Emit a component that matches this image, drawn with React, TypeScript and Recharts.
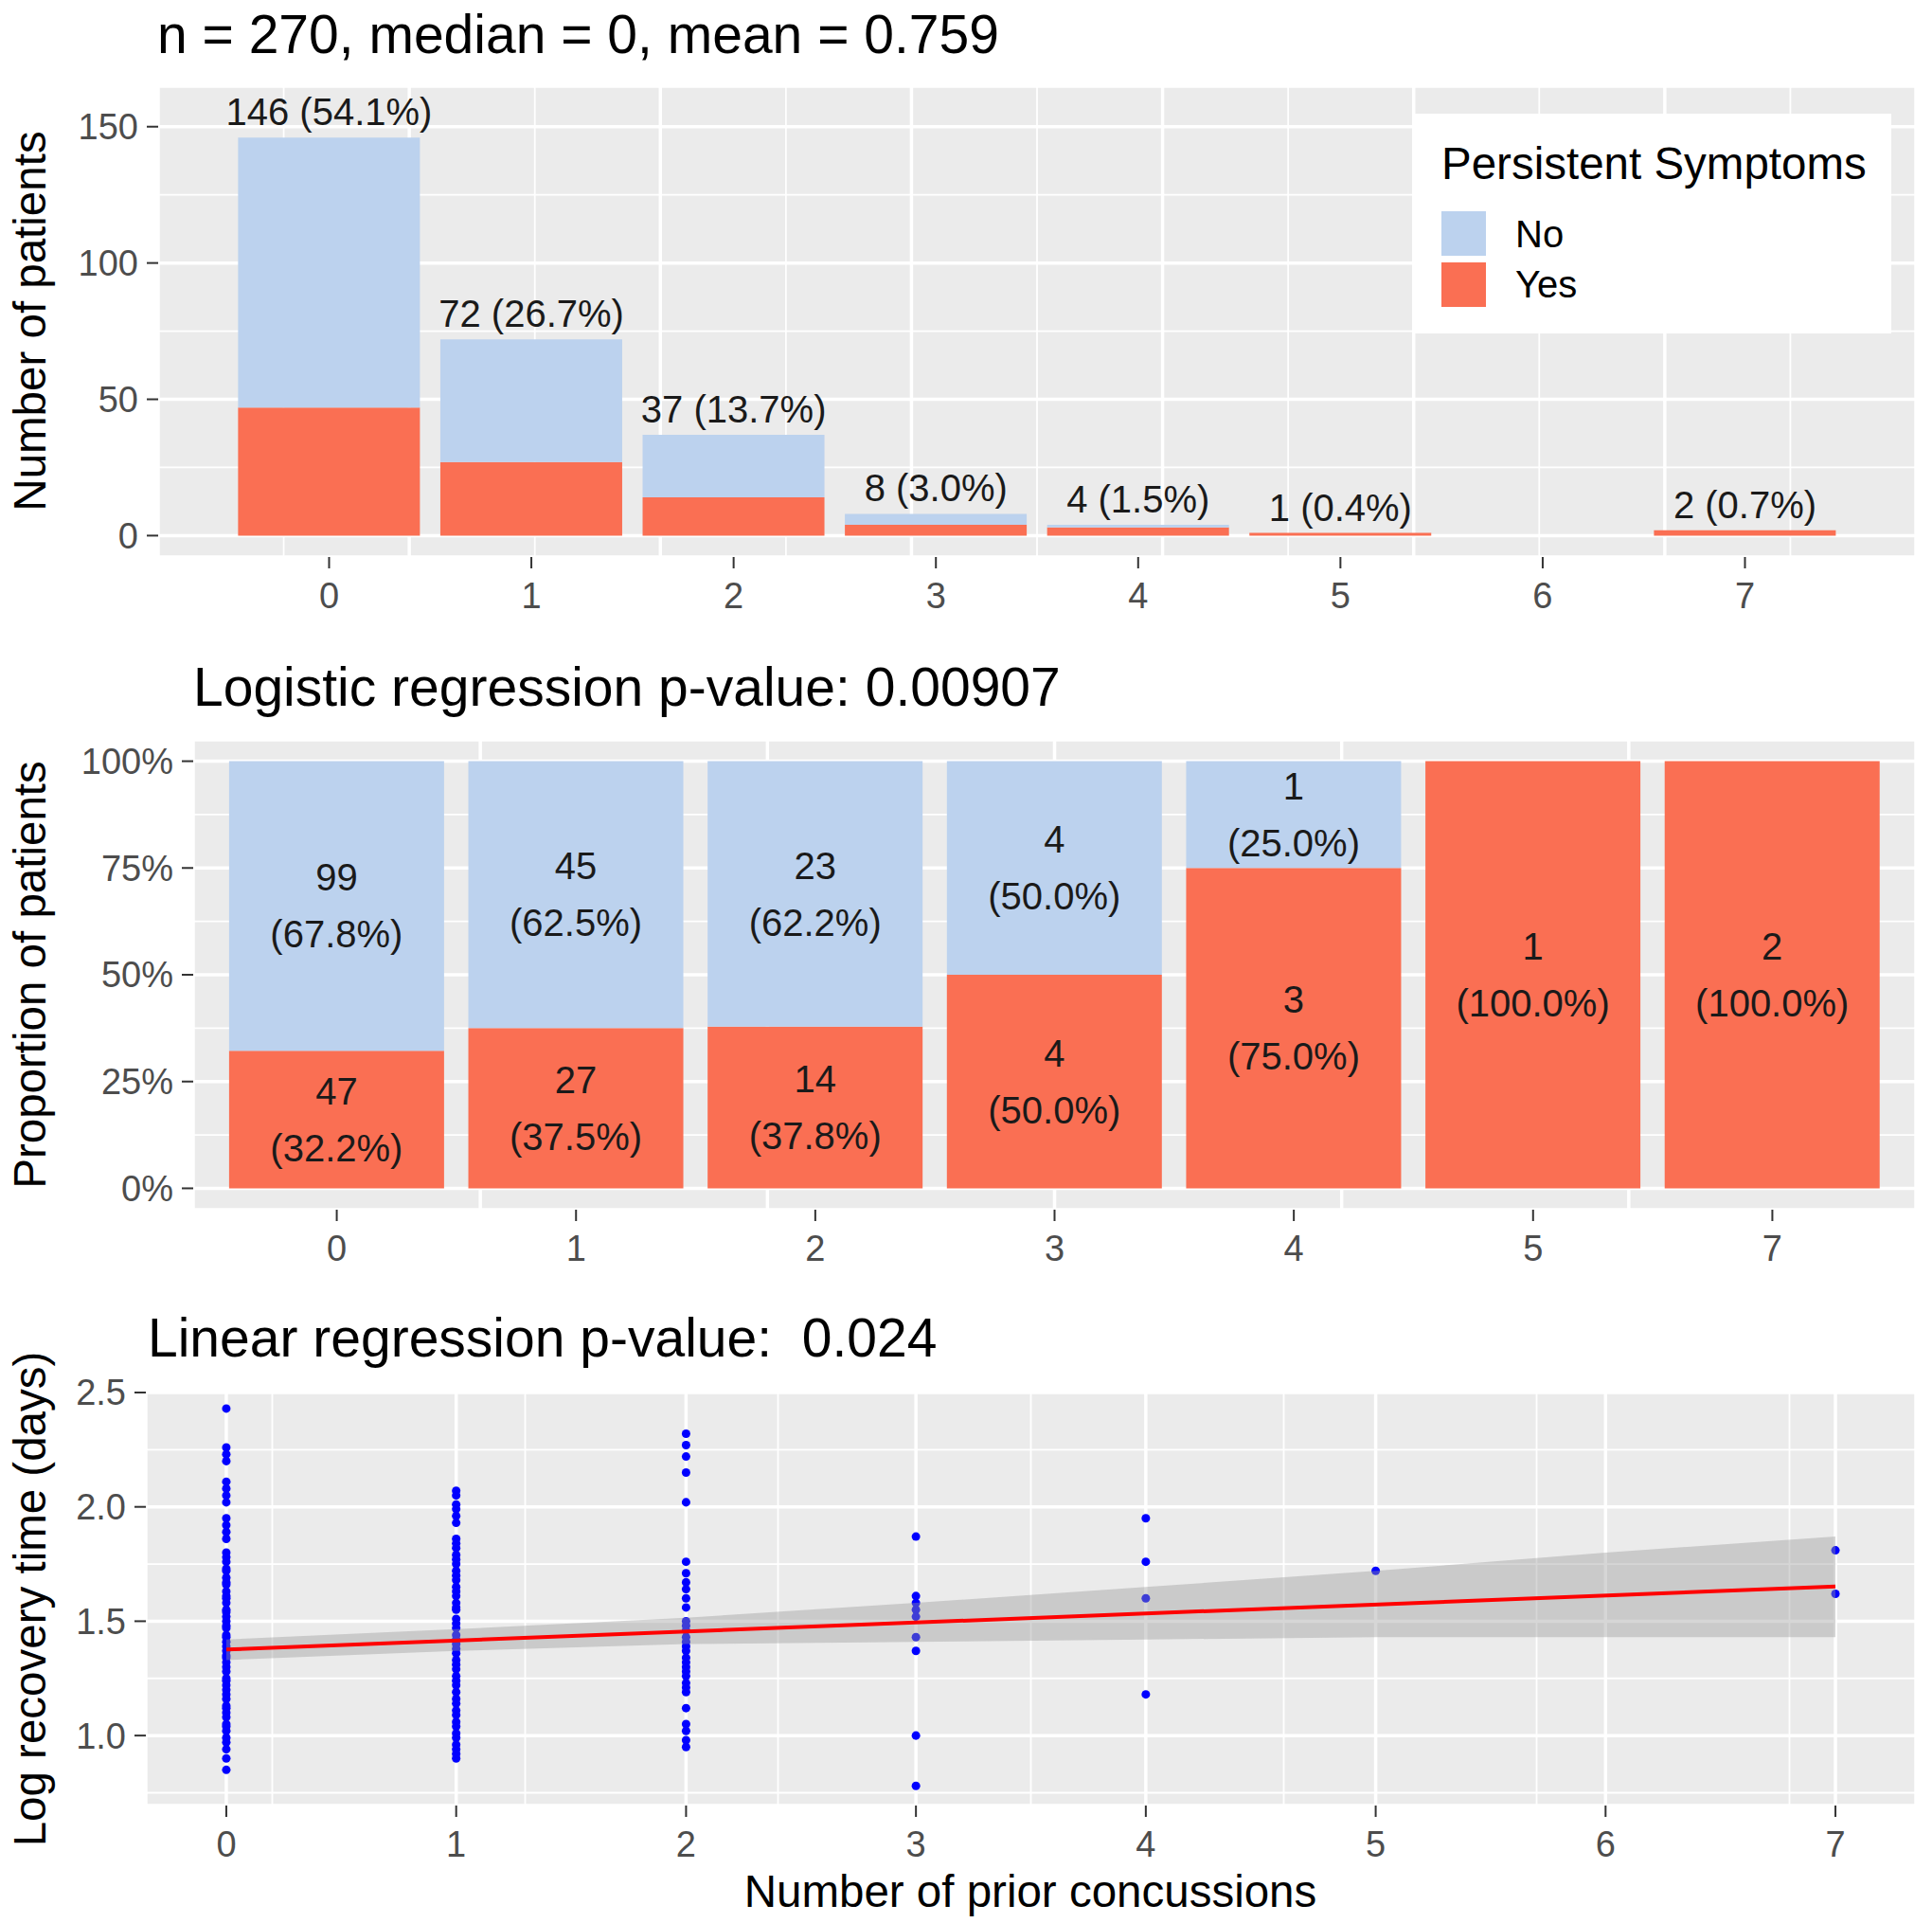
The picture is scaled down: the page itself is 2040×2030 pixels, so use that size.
import React from 'react';
import {
  ComposedChart,
  BarChart,
  Bar,
  Area,
  Line,
  Scatter,
  XAxis,
  YAxis,
  CartesianGrid,
  LabelList,
} from 'recharts';

// number of prior concussions
const priorCats = ['0', '1', '2', '3', '4', '5', '6', '7'];
const noCounts = [99, 45, 23, 4, 1, 0, 0, 0];
const yesCounts = [47, 27, 14, 4, 3, 1, 0, 2];

// log recovery time (days), one list per number of prior concussions
const logRec0 = [
  2.43, 2.26, 2.23, 2.2, 2.11, 2.08, 2.05, 2.02, 1.95, 1.92, 1.89, 1.86, 1.8, 1.78, 1.76, 1.73,
  1.72, 1.69, 1.67, 1.66, 1.63, 1.61, 1.6, 1.58, 1.55, 1.54, 1.52, 1.5, 1.48, 1.47, 1.44, 1.43,
  1.41, 1.39, 1.37, 1.35, 1.34, 1.32, 1.3, 1.28, 1.25, 1.24, 1.22, 1.2, 1.18, 1.16, 1.13, 1.12,
  1.1, 1.08, 1.05, 1.04, 1.02, 0.99, 0.97, 0.94, 0.9, 0.85,
];
const logRec1 = [
  2.07, 2.05, 2.01, 1.99, 1.96, 1.93, 1.86, 1.84, 1.82, 1.79, 1.77, 1.75, 1.72, 1.7, 1.68, 1.65,
  1.63, 1.61, 1.58, 1.56, 1.55, 1.51, 1.49, 1.47, 1.44, 1.42, 1.4, 1.38, 1.36, 1.33, 1.31, 1.29,
  1.26, 1.24, 1.22, 1.19, 1.16, 1.14, 1.11, 1.09, 1.06, 1.04, 1.01, 0.99, 0.96, 0.94, 0.92, 0.9,
];
const logRec2 = [
  2.32, 2.27, 2.22, 2.15, 2.02, 1.76, 1.71, 1.67, 1.64, 1.6, 1.56, 1.5, 1.48, 1.46, 1.43, 1.41,
  1.39, 1.37, 1.34, 1.32, 1.3, 1.28, 1.26, 1.23, 1.21, 1.19, 1.12, 1.05, 1.02, 0.98, 0.95,
];
const logRec3 = [1.87, 1.61, 1.58, 1.55, 1.52, 1.43, 1.37, 1.0, 0.78];
const logRec4 = [1.95, 1.76, 1.6, 1.18];
const logRec5 = [1.72];
const logRec7 = [1.81, 1.62];

// linear fit and its confidence band, read at each whole number of concussions
const fitX = [0, 1, 2, 3, 4, 5, 6, 7];
const fitY = [1.376, null, null, null, null, null, null, 1.652];
const bandLow = [1.33, 1.37, 1.4, 1.41, 1.42, 1.43, 1.43, 1.43];
const bandHigh = [1.42, 1.465, 1.515, 1.58, 1.65, 1.72, 1.8, 1.87];

const countTicks = [0, 50, 100, 150];
const countMinor = [25, 75, 125];
const propTicks = [0, 0.25, 0.5, 0.75, 1];
const propMinor = [0.125, 0.375, 0.625, 0.875];
const logTicks = [1, 1.5, 2, 2.5];
const logMinor = [0.75, 1.25, 1.75, 2.25];
const xTicks = [0, 1, 2, 3, 4, 5, 6, 7];
const xMinorTop = [-0.5, 0.5, 1.5, 2.5, 3.5, 4.5, 5.5, 6.5, 7.5];
const xMinorBottom = [0.5, 1.5, 2.5, 3.5, 4.5, 5.5, 6.5];

const BLUE = '#BCD2EE';
const RED = '#FA6F53';
const PANEL = '#EBEBEB';
const FONT = "'Liberation Sans', Arial, Helvetica, sans-serif";

const totals = priorCats.map((_, i) => noCounts[i] + yesCounts[i]);
const grandTotal = totals.reduce((a, b) => a + b, 0);

const countRows = priorCats.map((k, i) => ({
  k,
  yes: yesCounts[i],
  no: noCounts[i],
  total: totals[i],
  top: totals[i] ? `${totals[i]} (${((100 * totals[i]) / grandTotal).toFixed(1)}%)` : '',
}));

const propRows = priorCats
  .map((k, i) => ({
    k,
    yes: yesCounts[i],
    no: noCounts[i],
    yesP: totals[i] ? yesCounts[i] / totals[i] : 0,
    noP: totals[i] ? noCounts[i] / totals[i] : 0,
  }))
  .filter((r) => r.yes + r.no > 0);

const bandRows = fitX.map((x, i) => ({ x, band: [bandLow[i], bandHigh[i]], fit: fitY[i] }));

const scatterCols = [
  { x: 0, ys: logRec0 },
  { x: 1, ys: logRec1 },
  { x: 2, ys: logRec2 },
  { x: 3, ys: logRec3 },
  { x: 4, ys: logRec4 },
  { x: 5, ys: logRec5 },
  { x: 7, ys: logRec7 },
];
const points = scatterCols.flatMap((c) => c.ys.map((y) => ({ x: c.x, y })));

const tickText = { fill: '#4D4D4D', fontSize: 38 };
const tickStroke = { stroke: '#333333', strokeWidth: 2 };

function PlotTitle({ text, left, cy }: { text: string; left: number; cy: number }) {
  return (
    <div style={{ position: 'absolute', left, top: cy - 28.5, fontSize: 57, lineHeight: '57px', whiteSpace: 'pre', color: '#000' }}>
      {text}
    </div>
  );
}

function AxisTitle({ text, cx, cy, rotate }: { text: string; cx: number; cy: number; rotate?: boolean }) {
  return (
    <div
      style={{
        position: 'absolute',
        left: cx,
        top: cy,
        transform: rotate ? 'translate(-50%, -50%) rotate(-90deg)' : 'translate(-50%, -50%)',
        fontSize: 47.5,
        lineHeight: '47.5px',
        whiteSpace: 'nowrap',
        color: '#000',
      }}
    >
      {text}
    </div>
  );
}

const segmentLabel = (kind: 'yes' | 'no') => (props: any) => {
  const row = propRows[props.index];
  if (!row) return null;
  const n = kind === 'yes' ? row.yes : row.no;
  if (!n) return null;
  const vb = props.viewBox && props.viewBox.width != null ? props.viewBox : props;
  const cx = vb.x + vb.width / 2;
  const cy = vb.y + vb.height / 2;
  const pct = `(${((100 * n) / (row.yes + row.no)).toFixed(1)}%)`;
  return (
    <text x={cx} y={cy} textAnchor="middle" fontSize={40} fill="#1A1A1A">
      <tspan x={cx} dy={-16}>{n}</tspan>
      <tspan x={cx} dy={60}>{pct}</tspan>
    </text>
  );
};

export default function App() {
  return (
    <div style={{ position: 'absolute', left: 0, top: 0, width: 2040, height: 2030, background: '#fff', fontFamily: FONT }}>
      {/* top: counts */}
      <PlotTitle text="n = 270, median = 0, mean = 0.759" left={166} cy={36} />
      <div style={{ position: 'absolute', left: 0, top: 0 }}>
        <ComposedChart width={2040} height={668} data={countRows} margin={{ top: 91, right: 17, bottom: 0, left: 0 }} barCategoryGap="5%">
          <XAxis xAxisId="grid" type="number" domain={[-0.845, 7.845]} ticks={xTicks} allowDataOverflow hide />
          <XAxis xAxisId="gridMinor" type="number" domain={[-0.845, 7.845]} ticks={xMinorTop} allowDataOverflow hide />
          <YAxis yAxisId="gridMinor" type="number" domain={[-7.85, 164.85]} ticks={countMinor} allowDataOverflow hide />
          <CartesianGrid xAxisId="gridMinor" yAxisId="gridMinor" stroke="#FFFFFF" strokeWidth={1.8} fill={PANEL} fillOpacity={1} />
          <CartesianGrid xAxisId="grid" stroke="#FFFFFF" strokeWidth={3.5} />
          <XAxis
            dataKey="k"
            type="category"
            padding={{ left: 73.7, right: 73.7 }}
            interval={0}
            height={80}
            axisLine={false}
            tickLine={tickStroke}
            tickSize={12}
            tickMargin={15}
            tick={tickText}
          />
          <YAxis
            type="number"
            domain={[-7.85, 164.85]}
            ticks={countTicks}
            allowDataOverflow
            width={167}
            axisLine={false}
            tickLine={tickStroke}
            tickSize={12}
            tickMargin={9}
            tick={tickText}
          />
          <Bar dataKey="yes" name="Yes" stackId="s" fill={RED} isAnimationActive={false} />
          <Bar dataKey="no" name="No" stackId="s" fill={BLUE} isAnimationActive={false} />
          {/* invisible series at each column total, only to carry the count labels */}
          <Line dataKey="total" stroke="none" dot={false} activeDot={false} isAnimationActive={false} legendType="none">
            <LabelList dataKey="top" position="top" offset={13} fill="#1A1A1A" fontSize={40} />
          </Line>
        </ComposedChart>
      </div>
      <AxisTitle text="Number of patients" cx={32} cy={339} rotate />
      <div style={{ position: 'absolute', left: 1494, top: 120, width: 503, height: 232, background: '#FFFFFF' }}>
        <div style={{ position: 'absolute', left: 28, top: 53 - 23.75, fontSize: 47.5, lineHeight: '47.5px', whiteSpace: 'nowrap' }}>
          Persistent Symptoms
        </div>
        <div style={{ position: 'absolute', left: 28, top: 103, width: 47, height: 47, background: BLUE }} />
        <div style={{ position: 'absolute', left: 28, top: 157, width: 47, height: 47, background: RED }} />
        <div style={{ position: 'absolute', left: 106, top: 127 - 20, fontSize: 40, lineHeight: '40px' }}>No</div>
        <div style={{ position: 'absolute', left: 106, top: 180 - 20, fontSize: 40, lineHeight: '40px' }}>Yes</div>
      </div>

      {/* middle: proportions */}
      <PlotTitle text="Logistic regression p-value: 0.00907" left={204} cy={725} />
      <div style={{ position: 'absolute', left: 0, top: 700 }}>
        <BarChart width={2040} height={657} data={propRows} margin={{ top: 81, right: 17, bottom: 0, left: 0 }} barCategoryGap="5%">
          <XAxis xAxisId="grid" type="number" domain={[-0.6, 6.6]} ticks={[0, 1, 2, 3, 4, 5, 6]} allowDataOverflow hide />
          <YAxis yAxisId="gridMinor" type="number" domain={[-0.05, 1.05]} ticks={propMinor} allowDataOverflow hide />
          <CartesianGrid xAxisId="grid" yAxisId="gridMinor" vertical={false} stroke="#FFFFFF" strokeWidth={1.8} fill={PANEL} fillOpacity={1} />
          <CartesianGrid xAxisId="grid" stroke="#FFFFFF" strokeWidth={3.5} />
          <XAxis
            dataKey="k"
            type="category"
            padding={{ left: 25.26, right: 25.26 }}
            interval={0}
            height={80}
            axisLine={false}
            tickLine={tickStroke}
            tickSize={12}
            tickMargin={15}
            tick={tickText}
          />
          <YAxis
            type="number"
            domain={[-0.05, 1.05]}
            ticks={propTicks}
            allowDataOverflow
            tickFormatter={(v: number) => `${Math.round(v * 100)}%`}
            width={204}
            axisLine={false}
            tickLine={tickStroke}
            tickSize={12}
            tickMargin={9}
            tick={tickText}
          />
          <Bar dataKey="yesP" name="Yes" stackId="p" fill={RED} isAnimationActive={false}>
            <LabelList content={segmentLabel('yes')} />
          </Bar>
          <Bar dataKey="noP" name="No" stackId="p" fill={BLUE} isAnimationActive={false}>
            <LabelList content={segmentLabel('no')} />
          </Bar>
        </BarChart>
      </div>
      <AxisTitle text="Proportion of patients" cx={32} cy={1029} rotate />

      {/* bottom: log recovery time */}
      <PlotTitle text="Linear regression p-value:  0.024" left={156} cy={1412} />
      <div style={{ position: 'absolute', left: 0, top: 1400 }}>
        <ComposedChart width={2040} height={586} data={bandRows} margin={{ top: 70, right: 17, bottom: 0, left: 0 }}>
          <XAxis xAxisId="gridMinor" type="number" domain={[-0.35, 7.35]} ticks={xMinorBottom} allowDataOverflow hide />
          <YAxis yAxisId="gridMinor" type="number" domain={[0.694, 2.5]} ticks={logMinor} allowDataOverflow hide />
          <CartesianGrid xAxisId="gridMinor" yAxisId="gridMinor" stroke="#FFFFFF" strokeWidth={1.8} fill={PANEL} fillOpacity={1} />
          <CartesianGrid stroke="#FFFFFF" strokeWidth={3.5} />
          <XAxis
            dataKey="x"
            type="number"
            domain={[-0.35, 7.35]}
            ticks={xTicks}
            allowDataOverflow
            interval={0}
            height={80}
            axisLine={false}
            tickLine={tickStroke}
            tickSize={12}
            tickMargin={15}
            tick={tickText}
          />
          <YAxis
            type="number"
            domain={[0.694, 2.5]}
            ticks={logTicks}
            allowDataOverflow
            tickFormatter={(v: number) => v.toFixed(1)}
            width={154}
            axisLine={false}
            tickLine={tickStroke}
            tickSize={12}
            tickMargin={9}
            tick={tickText}
          />
          <Scatter data={points} dataKey="y" fill="#0000FF" isAnimationActive={false} zIndex={50} />
          <Area dataKey="band" fill="#999999" fillOpacity={0.4} stroke="none" isAnimationActive={false} zIndex={100} />
          <Line dataKey="fit" stroke="#FF0000" strokeWidth={4} dot={false} activeDot={false} connectNulls isAnimationActive={false} zIndex={400} />
        </ComposedChart>
      </div>
      <AxisTitle text="Log recovery time (days)" cx={32} cy={1688} rotate />
      <AxisTitle text="Number of prior concussions" cx={1088} cy={1997} />
    </div>
  );
}
